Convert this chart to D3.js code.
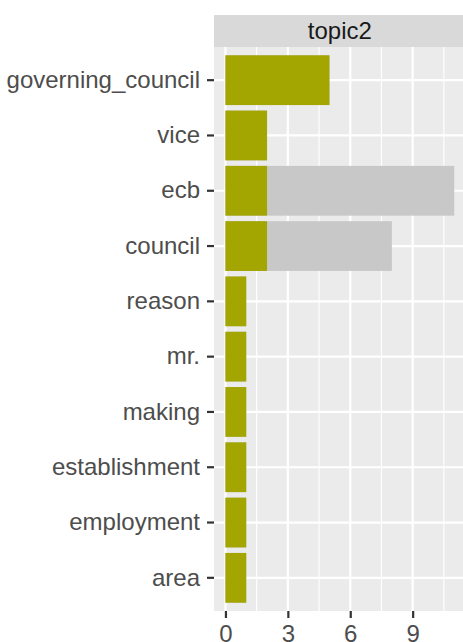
<!DOCTYPE html>
<html>
<head>
<meta charset="utf-8">
<script src="https://cdn.jsdelivr.net/npm/d3@7"></script>
<style>
  body { margin: 0; background: #fff; }
  svg { display: block; font-family: "Liberation Sans", Arial, sans-serif; }
</style>
</head>
<body>
<svg id="chart" width="463" height="642"></svg>
<script>
// Terms, top to bottom
const terms = ["governing_council", "vice", "ecb", "council", "reason", "mr.", "making", "establishment", "employment", "area"];
// Count of each term within topic2
const topicCounts = [5, 2, 2, 2, 1, 1, 1, 1, 1, 1];
// Total count of each term over all topics (grey bars behind)
const totalCounts = [5, 2, 11, 8, 1, 1, 1, 1, 1, 1];
const xTicks = [0, 3, 6, 9];
const xMinor = [1.5, 4.5, 7.5, 10.5];
const facetLabel = "topic2";

const svg = d3.select("#chart");

const panel = { left: 214, right: 465.7, top: 47, bottom: 611 };
const strip = { top: 15, bottom: 47 };

const x = d3.scaleLinear().domain([-0.55, 11.55]).range([panel.left, panel.right]);
const y = d3.scaleBand().domain(terms).range([panel.top, panel.bottom])
    .paddingInner(0.1).paddingOuter(0.15);

// Panel background
svg.append("rect")
    .attr("x", panel.left).attr("y", panel.top)
    .attr("width", panel.right - panel.left).attr("height", panel.bottom - panel.top)
    .attr("fill", "#EBEBEB");

// Grid lines
svg.selectAll(".minor").data(xMinor).join("line")
    .attr("x1", d => x(d)).attr("x2", d => x(d))
    .attr("y1", panel.top).attr("y2", panel.bottom)
    .attr("stroke", "#fff").attr("stroke-width", 1.1);

svg.selectAll(".majorx").data(xTicks).join("line")
    .attr("x1", d => x(d)).attr("x2", d => x(d))
    .attr("y1", panel.top).attr("y2", panel.bottom)
    .attr("stroke", "#fff").attr("stroke-width", 2.2);

svg.selectAll(".majory").data(terms).join("line")
    .attr("x1", panel.left).attr("x2", panel.right)
    .attr("y1", d => y(d) + y.bandwidth() / 2).attr("y2", d => y(d) + y.bandwidth() / 2)
    .attr("stroke", "#fff").attr("stroke-width", 2.2);

// Grey total bars, then topic bars on top
svg.selectAll(".total").data(terms).join("rect")
    .attr("x", x(0)).attr("y", d => y(d))
    .attr("width", (d, i) => x(totalCounts[i]) - x(0))
    .attr("height", y.bandwidth())
    .attr("fill", "#C8C8C8");

svg.selectAll(".topic").data(terms).join("rect")
    .attr("x", x(0)).attr("y", d => y(d))
    .attr("width", (d, i) => x(topicCounts[i]) - x(0))
    .attr("height", y.bandwidth())
    .attr("fill", "#A3A500");

// Strip
svg.append("rect")
    .attr("x", panel.left).attr("y", strip.top)
    .attr("width", panel.right - panel.left).attr("height", strip.bottom - strip.top)
    .attr("fill", "#D9D9D9");
svg.append("text")
    .attr("x", (panel.left + panel.right) / 2).attr("y", (strip.top + strip.bottom) / 2)
    .attr("dy", "0.35em").attr("text-anchor", "middle")
    .attr("font-size", 24).attr("fill", "#1A1A1A")
    .text(facetLabel);

// Axes
const yAxis = svg.append("g")
    .attr("transform", `translate(${panel.left},0)`)
    .call(d3.axisLeft(y).tickSize(7).tickPadding(7));
const xAxis = svg.append("g")
    .attr("transform", `translate(0,${panel.bottom})`)
    .call(d3.axisBottom(x).tickValues(xTicks).tickSize(7).tickPadding(7));

[yAxis, xAxis].forEach(g => {
    g.select(".domain").remove();
    g.selectAll(".tick line").attr("stroke", "#333333").attr("stroke-width", 2.2);
    g.selectAll(".tick text").attr("fill", "#4D4D4D").attr("font-size", 24)
        .attr("font-family", "Liberation Sans, Arial, sans-serif");
});
</script>
</body>
</html>
